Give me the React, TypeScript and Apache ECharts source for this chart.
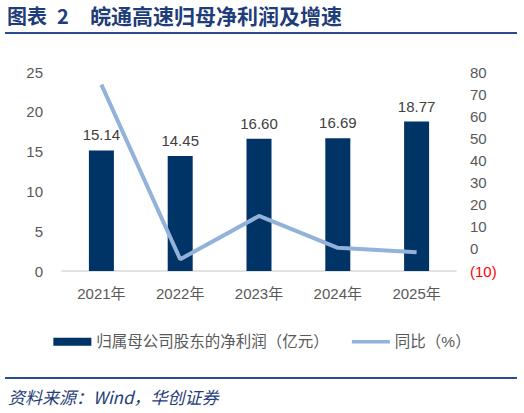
import { useEffect, useRef } from 'react';
import * as echarts from 'echarts';

const years = ['2021年', '2022年', '2023年', '2024年', '2025年'];
const netProfit = [15.14, 14.45, 16.6, 16.69, 18.77];
const growth = [74.3, -4.7, 14.9, 0.5, -1.5];

const barName = '归属母公司股东的净利润（亿元）';
const lineName = '同比（%）';

// thin bar with invisible specks at top and bottom so it keeps its thickness when stretched
const lineIcon =
  'path://M0,0 L0.01,0 L0.01,0.01 Z M0,2.2 L38,2.2 L38,5.8 L0,5.8 Z M0,8 L0.01,8 L0.01,7.99 Z';

export default function App() {
  const chartRef = useRef<HTMLDivElement>(null);

  useEffect(() => {
    if (!chartRef.current) return;
    document.body.style.margin = '0';

    const chart = echarts.init(chartRef.current, undefined, { renderer: 'svg' });
    const font = 'Arial, "Liberation Sans", "Noto Sans CJK SC", sans-serif';
    const titleFont = '"Noto Sans CJK SC", serif';

    chart.setOption({
      animation: false,
      textStyle: { fontFamily: font },
      graphic: [
        {
          type: 'text',
          left: 7,
          top: 5,
          style: { text: '图表', fontSize: 20, fontWeight: 'bold', fill: '#1f3d7a', fontFamily: titleFont },
        },
        {
          type: 'text',
          left: 57,
          top: 5,
          style: { text: '2', fontSize: 20, fontWeight: 'bold', fill: '#1f3d7a', fontFamily: titleFont },
        },
        {
          type: 'text',
          left: 90,
          top: 4,
          style: {
            text: '皖通高速归母净利润及增速',
            fontSize: 21,
            fontWeight: 'bold',
            fill: '#1f3d7a',
            fontFamily: titleFont,
          },
        },
        {
          type: 'line',
          shape: { x1: 5, y1: 33, x2: 517, y2: 33 },
          style: { stroke: '#2b4c8c', lineWidth: 2 },
        },
        {
          type: 'line',
          shape: { x1: 5, y1: 378, x2: 517, y2: 378 },
          style: { stroke: '#2b4c8c', lineWidth: 2 },
        },
        {
          type: 'text',
          left: 8,
          top: 388,
          style: {
            text: '资料来源：Wind，华创证券',
            fontSize: 17,
            fontStyle: 'italic',
            fill: '#1f3d7a',
            fontFamily: titleFont,
          },
        },
      ],
      legend: {
        top: 329,
        left: 'center',
        itemGap: 23,
        itemWidth: 38,
        itemHeight: 8,
        textStyle: { fontSize: 15.5, color: '#595959', fontFamily: font },
        data: [
          { name: barName, icon: 'rect' },
          { name: lineName, icon: lineIcon },
        ],
      },
      grid: { left: 62, right: 68, top: 72, bottom: 142 },
      xAxis: {
        type: 'category',
        data: years,
        axisLine: { lineStyle: { color: '#d9d9d9', width: 1.5 } },
        axisTick: { show: false },
        axisLabel: { fontSize: 15, color: '#595959', margin: 15 },
      },
      yAxis: [
        {
          type: 'value',
          min: 0,
          max: 25,
          interval: 5,
          splitLine: { show: false },
          axisLine: { show: false },
          axisTick: { show: false },
          axisLabel: { fontSize: 15, color: '#595959', margin: 19 },
        },
        {
          type: 'value',
          min: -10,
          max: 80,
          interval: 10,
          splitLine: { show: false },
          axisLine: { show: false },
          axisTick: { show: false },
          axisLabel: {
            fontSize: 15,
            margin: 14,
            color: (v: any) => (Number(v) < 0 ? '#ff0000' : '#595959'),
            formatter: (v: number) => (v < 0 ? `(${Math.abs(v)})` : `${v}`),
          },
        },
      ],
      series: [
        {
          name: barName,
          type: 'bar',
          data: netProfit,
          barWidth: 25,
          itemStyle: { color: '#003366' },
          label: {
            show: true,
            position: 'top',
            distance: 8,
            fontSize: 15,
            color: '#404040',
            formatter: (p: any) => Number(p.value).toFixed(2),
          },
        },
        {
          name: lineName,
          type: 'line',
          yAxisIndex: 1,
          data: growth,
          symbol: 'none',
          lineStyle: { color: '#92b2da', width: 4 },
          itemStyle: { color: '#92b2da' },
        },
      ],
    });

    return () => chart.dispose();
  }, []);

  return <div ref={chartRef} style={{ width: 524, height: 413 }} />;
}
